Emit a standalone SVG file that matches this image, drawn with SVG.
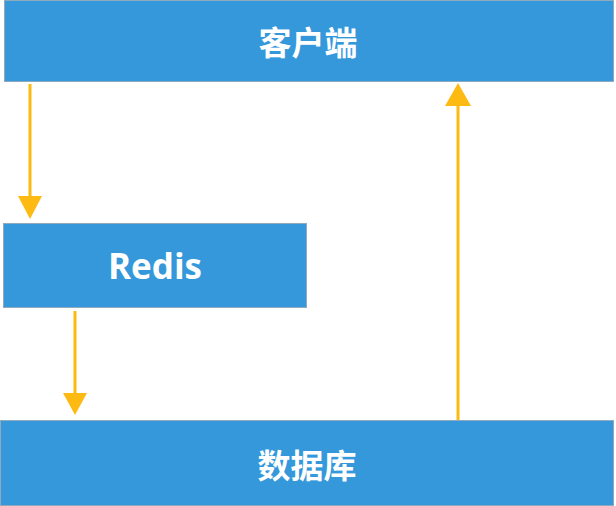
<svg xmlns="http://www.w3.org/2000/svg" width="616" height="506" viewBox="0 0 616 506">
<style>
.box{fill:#3498DB;stroke:#8FA9BF;stroke-width:1}
.lbl{fill:#FFFFFF;font-family:"Open Sans","Noto Sans","Noto Sans CJK SC",sans-serif;font-weight:bold;font-size:33px;text-anchor:middle;dominant-baseline:central}
.arr{stroke:#FDBA12;stroke-width:3;fill:none}
.head{fill:#FDBA12}
</style>
<rect width="616" height="506" fill="#FFFFFF"/>
<g id="client">
<rect class="box" x="4.5" y="0.5" width="609" height="81"/>
<text class="lbl" x="308" y="42">客户端</text>
</g>
<g id="redis">
<rect class="box" x="3.5" y="223.5" width="303" height="84"/>
<text class="lbl" x="155" y="265" style="font-size:35px">Redis</text>
</g>
<g id="database">
<rect class="box" x="0.5" y="420.5" width="613" height="85"/>
<text class="lbl" x="307" y="465">数据库</text>
</g>
<g id="connectors">
<line class="arr" x1="30" y1="84" x2="30" y2="198"/>
<polygon class="head" points="18,196 42,196 30,219"/>
<line class="arr" x1="75" y1="311" x2="75" y2="395"/>
<polygon class="head" points="63,393 87,393 75,415"/>
<line class="arr" x1="458" y1="420" x2="458" y2="104"/>
<polygon class="head" points="445,106 471,106 458,83"/>
</g>
</svg>
